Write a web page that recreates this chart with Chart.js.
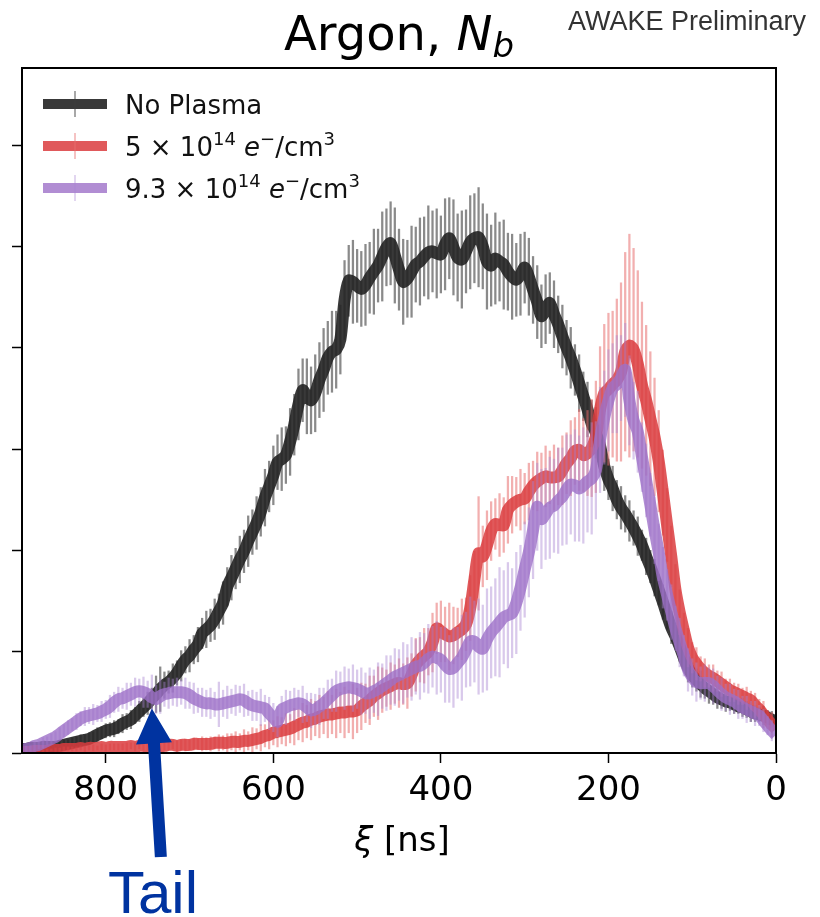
<!DOCTYPE html>
<html><head><meta charset="utf-8">
<script src="https://cdn.jsdelivr.net/npm/chart.js@4.4.0/dist/chart.umd.min.js"></script>
<style>html,body{margin:0;padding:0;background:#fff}#wrap{width:820px;height:917px;position:relative}</style>
</head><body><div id="wrap"><canvas id="c"></canvas></div>
<script>
// sample spacing along xi (ns), first sample at xi = 0
const XI_STEP = 5;
const xTicks = [0, 200, 400, 600, 800];
const yTicks = [0, 1, 2, 3, 4, 5, 6];
const seriesNames = ['No Plasma', '5e14', '9.3e14'];

const noPlasma = [
0.31,0.33,0.35,0.37,0.38,0.39,0.41,0.43,0.45,0.46,
0.48,0.50,0.51,0.53,0.55,0.58,0.61,0.64,0.68,0.72,
0.77,0.84,0.94,1.05,1.15,1.24,1.36,1.49,1.61,1.73,
1.84,1.94,2.05,2.14,2.22,2.29,2.36,2.42,2.50,2.61,
2.70,2.83,3.03,3.16,3.25,3.39,3.52,3.65,3.78,3.90,
4.00,4.11,4.23,4.33,4.44,4.38,4.31,4.45,4.57,4.70,
4.79,4.72,4.67,4.70,4.75,4.82,4.85,4.88,4.81,4.85,
5.00,5.09,5.08,5.04,4.95,4.87,4.89,4.99,5.08,5.02,
4.92,4.93,4.95,4.94,4.90,4.85,4.82,4.75,4.68,4.65,
4.77,4.91,5.03,4.99,4.90,4.81,4.75,4.69,4.62,4.58,
4.61,4.65,4.66,4.47,4.08,3.98,3.96,3.90,3.78,3.68,
3.55,3.48,3.52,3.58,3.44,3.24,3.07,2.94,2.90,2.87,
2.74,2.63,2.52,2.38,2.27,2.18,2.09,1.99,1.91,1.82,
1.73,1.64,1.48,1.40,1.32,1.26,1.22,1.18,1.07,1.02,
0.96,0.92,0.86,0.79,0.74,0.70,0.67,0.63,0.58,0.54,
0.49,0.45,0.41,0.37,0.33,0.31,0.29,0.26,0.24,0.23,
0.22,0.20,0.18,0.16,0.14,0.13,0.12,0.11,0.10,0.09,
0.08,0.07,0.06,0.06,0.06,0.06,0.05,0.05,0.05,0.04,
0.04];
const noPlasmaErr = [
0.06,0.08,0.07,0.09,0.07,0.08,0.10,0.08,0.09,0.07,
0.09,0.08,0.10,0.09,0.11,0.10,0.12,0.10,0.13,0.11,
0.12,0.14,0.12,0.15,0.13,0.16,0.14,0.17,0.15,0.18,
0.16,0.18,0.15,0.19,0.17,0.20,0.18,0.21,0.19,0.22,
0.20,0.24,0.21,0.25,0.23,0.27,0.24,0.28,0.25,0.30,
0.27,0.31,0.28,0.33,0.30,0.34,0.31,0.36,0.33,0.38,
0.35,0.40,0.36,0.42,0.38,0.44,0.39,0.45,0.40,0.47,
0.42,0.49,0.44,0.46,0.41,0.48,0.43,0.47,0.40,0.45,
0.38,0.44,0.40,0.46,0.39,0.43,0.37,0.45,0.38,0.42,
0.40,0.47,0.41,0.38,0.44,0.36,0.42,0.35,0.40,0.37,
0.36,0.41,0.35,0.39,0.34,0.38,0.40,0.36,0.41,0.37,
0.38,0.33,0.37,0.31,0.35,0.30,0.33,0.28,0.31,0.27,
0.29,0.25,0.28,0.24,0.26,0.22,0.25,0.21,0.23,0.20,
0.22,0.19,0.21,0.17,0.20,0.16,0.18,0.15,0.17,0.14,
0.16,0.13,0.15,0.12,0.14,0.11,0.13,0.22,0.18,0.10,
0.11,0.09,0.10,0.08,0.09,0.08,0.09,0.07,0.08,0.07,
0.07,0.06,0.07,0.05,0.06,0.05,0.06,0.05,0.05,0.04,
0.05,0.04,0.05,0.04,0.04,0.03,0.04,0.03,0.04,0.03,
0.03];

const dens5 = [
0.24,0.28,0.33,0.38,0.43,0.47,0.52,0.54,0.56,0.58,
0.60,0.62,0.65,0.68,0.71,0.74,0.76,0.79,0.83,0.88,
0.94,1.04,1.21,1.39,1.61,1.94,2.25,2.57,2.88,3.12,
3.30,3.48,3.63,3.84,3.98,4.02,3.96,3.76,3.68,3.64,
3.59,3.55,3.39,3.12,3.01,2.96,2.94,2.99,2.98,2.91,
2.86,2.79,2.73,2.72,2.72,2.73,2.71,2.68,2.64,2.58,
2.51,2.50,2.48,2.45,2.40,2.25,2.25,2.26,2.19,2.05,
1.94,1.97,1.71,1.43,1.27,1.22,1.19,1.16,1.15,1.17,
1.20,1.23,1.09,1.00,0.96,0.92,0.87,0.77,0.69,0.68,
0.69,0.68,0.66,0.64,0.62,0.59,0.56,0.52,0.49,0.46,
0.42,0.41,0.41,0.40,0.40,0.39,0.38,0.38,0.37,0.36,
0.34,0.33,0.31,0.30,0.28,0.26,0.24,0.23,0.22,0.21,
0.20,0.18,0.17,0.15,0.14,0.13,0.12,0.12,0.11,0.11,
0.11,0.10,0.10,0.10,0.10,0.09,0.09,0.09,0.09,0.09,
0.08,0.08,0.08,0.07,0.08,0.08,0.07,0.07,0.08,0.07,
0.07,0.07,0.07,0.06,0.07,0.06,0.06,0.06,0.06,0.06,
0.05,0.06,0.05,0.05,0.05,0.04,0.05,0.04,0.04,0.04,
0.04,0.03,0.03,0.03,0.02,0.02,0.02,0.02,0.01,0.01,
0.01];
const dens5Err = [
0.10,0.12,0.09,0.13,0.10,0.12,0.09,0.11,0.08,0.10,
0.09,0.11,0.08,0.12,0.10,0.13,0.11,0.14,0.12,0.16,
0.15,0.19,0.17,0.22,0.25,0.30,0.36,0.42,0.50,0.58,
0.66,0.74,0.82,0.92,1.00,1.10,0.98,0.88,0.80,0.72,
0.75,0.68,0.62,0.55,0.48,0.42,0.36,0.40,0.33,0.37,
0.30,0.34,0.28,0.32,0.26,0.30,0.25,0.29,0.24,0.28,
0.25,0.30,0.24,0.28,0.33,0.27,0.31,0.25,0.29,0.34,
0.30,0.56,0.28,0.32,0.26,0.30,0.24,0.28,0.33,0.27,
0.30,0.25,0.29,0.23,0.27,0.22,0.26,0.21,0.25,0.20,
0.24,0.19,0.23,0.18,0.22,0.26,0.20,0.24,0.19,0.23,
0.22,0.27,0.21,0.25,0.20,0.24,0.19,0.23,0.18,0.21,
0.17,0.20,0.16,0.19,0.15,0.18,0.14,0.16,0.13,0.15,
0.12,0.14,0.11,0.13,0.10,0.12,0.09,0.11,0.08,0.10,
0.08,0.09,0.07,0.08,0.06,0.07,0.06,0.07,0.05,0.06,
0.05,0.06,0.05,0.05,0.04,0.05,0.04,0.05,0.04,0.04,
0.04,0.04,0.03,0.04,0.03,0.04,0.03,0.03,0.03,0.03,
0.03,0.03,0.02,0.03,0.02,0.03,0.02,0.02,0.02,0.02,
0.02,0.02,0.02,0.01,0.02,0.01,0.01,0.01,0.01,0.01,
0.01];

const dens93 = [
0.18,0.22,0.27,0.32,0.37,0.39,0.41,0.43,0.45,0.48,
0.51,0.53,0.55,0.58,0.62,0.66,0.69,0.69,0.69,0.70,
0.75,0.82,0.96,1.09,1.23,1.39,1.56,1.73,1.98,2.20,
2.45,2.69,2.92,3.17,3.28,3.48,3.78,3.70,3.64,3.60,
3.48,3.31,3.09,2.79,2.71,2.68,2.64,2.61,2.64,2.65,
2.60,2.53,2.49,2.44,2.42,2.36,2.31,2.43,2.20,1.98,
1.81,1.63,1.48,1.38,1.36,1.34,1.29,1.24,1.19,1.12,
1.03,1.05,1.10,1.10,1.02,0.94,0.89,0.84,0.83,0.87,
0.92,0.94,0.95,0.93,0.89,0.86,0.85,0.83,0.81,0.79,
0.77,0.75,0.72,0.69,0.66,0.63,0.61,0.59,0.59,0.61,
0.63,0.64,0.65,0.64,0.63,0.61,0.57,0.53,0.49,0.46,
0.43,0.42,0.45,0.48,0.49,0.48,0.47,0.45,0.43,0.31,
0.35,0.39,0.44,0.45,0.46,0.47,0.49,0.52,0.53,0.52,
0.51,0.50,0.49,0.48,0.48,0.49,0.49,0.50,0.52,0.54,
0.57,0.59,0.60,0.60,0.60,0.59,0.58,0.56,0.53,0.55,
0.58,0.60,0.61,0.60,0.58,0.56,0.54,0.53,0.50,0.46,
0.43,0.41,0.39,0.38,0.37,0.36,0.34,0.31,0.28,0.25,
0.22,0.19,0.16,0.14,0.12,0.10,0.08,0.07,0.05,0.04,
0.03];
const dens93Err = [
0.08,0.10,0.09,0.11,0.10,0.12,0.10,0.13,0.11,0.14,
0.12,0.15,0.13,0.16,0.14,0.17,0.15,0.18,0.16,0.19,
0.18,0.21,0.20,0.24,0.22,0.27,0.25,0.30,0.28,0.33,
0.31,0.36,0.34,0.40,0.38,0.44,0.46,0.42,0.48,0.44,
0.50,0.46,0.52,0.48,0.55,0.50,0.57,0.52,0.55,0.49,
0.54,0.48,0.52,0.46,0.50,0.45,0.49,0.43,0.48,0.44,
0.47,0.42,0.50,0.44,0.52,0.46,0.54,0.48,0.45,0.50,
0.43,0.47,0.40,0.44,0.37,0.42,0.35,0.39,0.33,0.37,
0.32,0.36,0.30,0.34,0.29,0.33,0.27,0.31,0.26,0.30,
0.25,0.28,0.24,0.27,0.22,0.26,0.21,0.25,0.20,0.23,
0.19,0.23,0.18,0.21,0.17,0.20,0.16,0.19,0.15,0.18,
0.15,0.17,0.14,0.18,0.13,0.16,0.14,0.17,0.13,0.15,
0.14,0.16,0.13,0.18,0.14,0.15,0.12,0.16,0.13,0.15,
0.12,0.16,0.13,0.22,0.12,0.15,0.13,0.14,0.12,0.15,
0.13,0.15,0.12,0.14,0.13,0.15,0.12,0.17,0.14,0.22,
0.13,0.15,0.12,0.14,0.11,0.13,0.10,0.12,0.10,0.11,
0.09,0.10,0.08,0.10,0.08,0.09,0.07,0.08,0.06,0.07,
0.06,0.06,0.05,0.05,0.04,0.05,0.04,0.04,0.03,0.03,
0.03];

// "Tail" annotation points at this xi / value
const TAIL_XI = 745, TAIL_V = 0.44;

const LINE_COLORS = ['rgba(35,35,35,0.9)', 'rgba(218,60,62,0.85)', 'rgba(158,112,200,0.8)'];
const BAR_COLORS  = ['rgba(60,60,60,0.6)', 'rgba(232,110,110,0.55)', 'rgba(170,135,210,0.45)'];

function pts(vals){ return vals.map((v,i)=>({x:i*XI_STEP, y:v})); }
function bars(vals, errs){ return vals.map((v,i)=>({x:i*XI_STEP, y:[v-errs[i], v+errs[i]]})); }

const series = [[noPlasma,noPlasmaErr],[dens5,dens5Err],[dens93,dens93Err]];
const datasets = [];
series.forEach((s,k)=>{
  datasets.push({type:'bar', label:seriesNames[k]+' err', data:bars(s[0],s[1]), backgroundColor:BAR_COLORS[k],
    barThickness:1.6, grouped:false, borderWidth:0, order:6-2*k});
  datasets.push({type:'line', label:seriesNames[k], data:pts(s[0]), borderColor:LINE_COLORS[k], borderWidth:12,
    pointRadius:0, tension:0.3, borderJoinStyle:'round', borderCapStyle:'butt', fill:false, clip:0, order:5-2*k});
});

function runs(ctx, x, y, parts){
  for (const p of parts){
    ctx.font = p.f;
    ctx.fillText(p.t, x, y + (p.dy||0));
    x += ctx.measureText(p.t).width;
  }
  return x;
}
function arrow(ctx,x0,y0,x1,y1,sw,hw,hl){
  const dx=x1-x0, dy=y1-y0, L=Math.hypot(dx,dy), ux=dx/L, uy=dy/L, nx=-uy, ny=ux;
  const bx=x1-ux*hl, by=y1-uy*hl;
  ctx.beginPath();
  ctx.moveTo(x0+nx*sw/2,y0+ny*sw/2);
  ctx.lineTo(bx+nx*sw/2,by+ny*sw/2);
  ctx.lineTo(bx+nx*hw/2,by+ny*hw/2);
  ctx.lineTo(x1,y1);
  ctx.lineTo(bx-nx*hw/2,by-ny*hw/2);
  ctx.lineTo(bx-nx*sw/2,by-ny*sw/2);
  ctx.lineTo(x0-nx*sw/2,y0-ny*sw/2);
  ctx.closePath(); ctx.fill();
}

const R = '"DejaVu Sans"';
const decor = {
  id:'decor',
  afterDatasetsDraw(chart){
    const ctx = chart.ctx, a = chart.chartArea;
    ctx.save();
    // frame
    ctx.strokeStyle = '#000'; ctx.lineWidth = 2;
    ctx.strokeRect(a.left, a.top, a.right-a.left, a.bottom-a.top);
    // legend
    const lx0 = a.left+21, lx1 = a.left+85, tx = a.left+103;
    const sup = (t)=>({t, f:'18px '+R, dy:-11});
    const rows = [
      [{t:'No Plasma', f:'26px '+R}],
      [{t:'5 × 10', f:'26px '+R},sup('14'),{t:' ', f:'26px '+R},{t:'e', f:'italic 26px '+R},
       sup('−'),{t:'/cm', f:'26px '+R},sup('3')],
      [{t:'9.3 × 10', f:'26px '+R},sup('14'),{t:' ', f:'26px '+R},{t:'e', f:'italic 26px '+R},
       sup('−'),{t:'/cm', f:'26px '+R},sup('3')]
    ];
    rows.forEach((r,k)=>{
      const cy = a.top+36+42*k;
      ctx.strokeStyle = LINE_COLORS[k]; ctx.lineWidth = 10; ctx.lineCap='butt';
      ctx.beginPath(); ctx.moveTo(lx0,cy); ctx.lineTo(lx1,cy); ctx.stroke();
      ctx.strokeStyle = BAR_COLORS[k]; ctx.lineWidth = 1.5;
      ctx.beginPath(); ctx.moveTo((lx0+lx1)/2,cy-13); ctx.lineTo((lx0+lx1)/2,cy+13); ctx.stroke();
      ctx.fillStyle = '#111'; ctx.textBaseline='alphabetic'; ctx.textAlign='left';
      runs(ctx, tx, cy+10, r);
    });
    ctx.restore();
  },
  afterDraw(chart){
    const ctx = chart.ctx, xs = chart.scales.x, ys = chart.scales.y;
    ctx.save();
    ctx.textBaseline='alphabetic'; ctx.textAlign='left'; ctx.fillStyle='#000';
    runs(ctx, 284, 50, [{t:'Argon, ', f:'48px '+R},{t:'N', f:'italic 48px '+R},{t:'b', f:'italic 34px '+R, dy:7}]);
    ctx.fillStyle='#333';
    runs(ctx, 568, 30, [{t:'AWAKE Preliminary', f:'27px "Liberation Sans"'}]);
    ctx.fillStyle='#000';
    ctx.font='italic 34px '+R; const w1 = ctx.measureText('ξ').width;
    ctx.font='34px '+R; const w = w1 + ctx.measureText(' [ns]').width;
    const cx = (chart.chartArea.left+chart.chartArea.right)/2;
    runs(ctx, cx - w/2 + 3, 851, [{t:'ξ', f:'italic 34px '+R},{t:' [ns]', f:'34px '+R}]);
    // Tail annotation
    ctx.fillStyle='#0033a0';
    const tipX = xs.getPixelForValue(TAIL_XI), tipY = ys.getPixelForValue(TAIL_V);
    arrow(ctx, tipX+9, 857, tipX, tipY, 12, 36, 35);
    runs(ctx, 108, 913, [{t:'Tail', f:'60px "Liberation Sans"'}]);
    ctx.restore();
  }
};

new Chart(document.getElementById('c'), {
  type:'line',
  data:{datasets},
  plugins:[decor],
  options:{
    responsive:true, maintainAspectRatio:false, animation:false,
    layout:{padding:{top:68, right:44, left:0, bottom:0}},
    plugins:{legend:{display:false}, tooltip:{enabled:false}, title:{display:false}},
    scales:{
      x:{type:'linear', reverse:true, min:0, max:900, offset:false,
        afterBuildTicks:s=>{ s.ticks = xTicks.map(v=>({value:v})); },
        afterFit:s=>{ s.height = 164; },
        grid:{offset:false, drawOnChartArea:false, drawTicks:true, tickLength:10, tickColor:'#000', tickWidth:1.5},
        border:{display:true, color:'#000', width:2},
        ticks:{font:{family:'DejaVu Sans', size:34}, color:'#000', padding:8, maxRotation:0, autoSkip:false}
      },
      y:{min:0, max:6.76,
        afterBuildTicks:s=>{ s.ticks = yTicks.map(v=>({value:v})); },
        afterFit:s=>{ s.width = 22; },
        grid:{offset:false, drawOnChartArea:false, drawTicks:true, tickLength:10, tickColor:'#000', tickWidth:1.5},
        border:{display:true, color:'#000', width:2},
        ticks:{display:false}
      }
    }
  }
});
</script>
</body></html>
